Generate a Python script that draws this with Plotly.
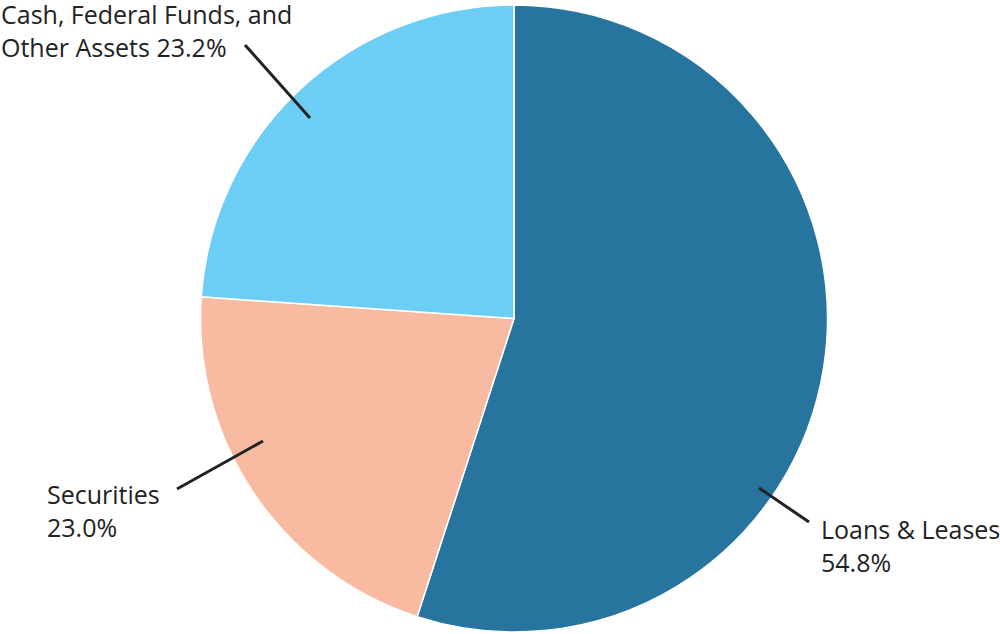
import plotly.graph_objects as go

# Data
categories = ["Loans & Leases", "Securities", "Cash, Federal Funds, and Other Assets"]
label_pct = ["54.8%", "23.0%", "23.2%"]
slice_values = [55.0, 21.1, 23.9]

colors = ["#27749F", "#F8BBA2", "#6DCEF5"]

W, H = 1000, 634
cx, cy, R = 514, 318.5, 313.5

fig = go.Figure(go.Pie(
    labels=categories,
    values=slice_values,
    sort=False,
    direction="clockwise",
    rotation=0,
    textinfo="none",
    hoverinfo="label",
    marker=dict(colors=colors, line=dict(color="white", width=1.5)),
    domain=dict(x=[(cx - R) / W, (cx + R) / W], y=[1 - (cy + R) / H, 1 - (cy - R) / H]),
    showlegend=False,
))

def px(x, y):
    return x / W, 1 - y / H

# label layout (pixels): text box left/top, leader tail/head
label_text = [
    f"{categories[0]}<br>{label_pct[0]}",
    f"Securities<br>{label_pct[1]}",
    f"Cash, Federal Funds, and<br>Other Assets {label_pct[2]}",
]
text_pos = [(819, 510), (45, 475), (-1, -5)]
leaders = [((809, 522), (759, 488)), ((177, 489), (263, 441)), ((245, 45), (310, 118))]

annotations = []
for t, (x, y) in zip(label_text, text_pos):
    ax_, ay_ = px(x, y)
    annotations.append(dict(
        text=t, x=ax_, y=ay_, xref="paper", yref="paper",
        xanchor="left", yanchor="top", align="left", showarrow=False,
        font=dict(family="Open Sans", size=25, color="#222222"),
    ))

shapes = []
for (x0, y0), (x1, y1) in leaders:
    a0, b0 = px(x0, y0)
    a1, b1 = px(x1, y1)
    shapes.append(dict(type="line", xref="paper", yref="paper", x0=a0, y0=b0, x1=a1, y1=b1,
                       line=dict(color="#222222", width=3)))

fig.update_layout(
    width=W, height=H,
    margin=dict(l=0, r=0, t=0, b=0),
    paper_bgcolor="white", plot_bgcolor="white",
    annotations=annotations, shapes=shapes,
)

fig.write_html("out.html", config={"displayModeBar": False},
               post_script="document.body.style.margin='0';document.body.style.overflow='hidden';")
